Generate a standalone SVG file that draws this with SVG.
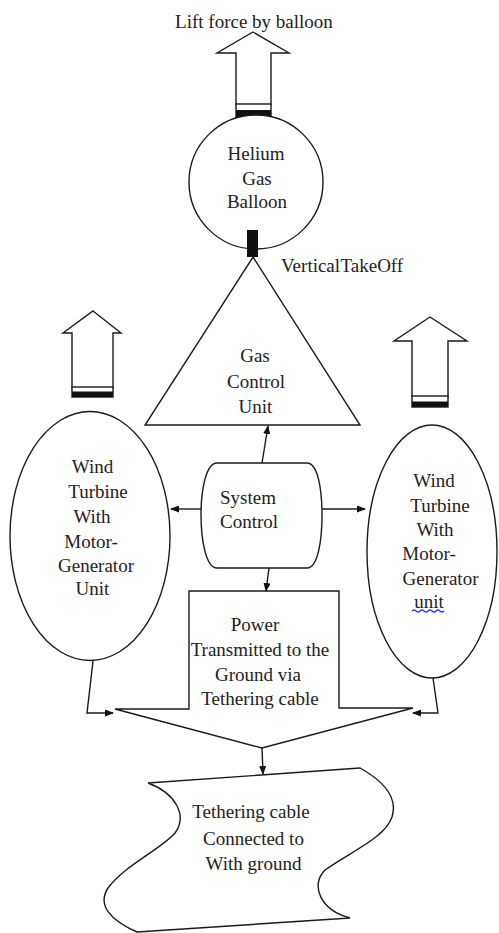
<svg xmlns="http://www.w3.org/2000/svg" width="499" height="933" viewBox="0 0 499 933">
<style>
.s{fill:#fff;stroke:#1a1a1a;stroke-width:1.4}
.c{fill:none;stroke:#1a1a1a;stroke-width:1.4}
.b{fill:#111}
text{font-family:"Liberation Serif","Times New Roman",serif;font-size:19px;fill:#222}
.m{text-anchor:middle}
</style>
<defs>
<marker id="ah" markerWidth="9" markerHeight="7" refX="8" refY="3.5" orient="auto" markerUnits="userSpaceOnUse">
<path d="M0,0 L9,3.5 L0,7 z" fill="#111"/>
</marker>
</defs>
<rect width="499" height="933" fill="#fff"/>

<g id="lift-arrow">
<polygon class="s" points="253,32 289,53 271,53 271,105 236,105 236,53 217,53"/>
<rect class="s" x="236" y="104" width="35" height="13"/>
<rect class="b" x="236" y="110" width="35" height="7"/>
<text class="m" x="254" y="28">Lift force by balloon</text>
</g>

<g id="balloon">
<circle class="s" cx="256" cy="182" r="67"/>
<text class="m" x="256" y="160">Helium</text>
<text class="m" x="257" y="185">Gas</text>
<text class="m" x="257" y="208">Balloon</text>
<rect class="b" x="247" y="230" width="11" height="27"/>
</g>

<g id="gas-control">
<polygon class="s" points="253,257 360,425 145,425"/>
<text class="m" x="255" y="362">Gas</text>
<text class="m" x="256" y="388">Control</text>
<text class="m" x="255.5" y="413">Unit</text>
</g>
<text x="281" y="272" word-spacing="-4">Vertical TakeOff</text>

<g id="left-arrow">
<polygon class="s" points="93,311 121,333 113,333 113,388 72,388 72,333 63,333"/>
<rect class="s" x="72" y="387" width="41" height="10"/>
<rect class="b" x="72" y="391.5" width="41" height="5.5"/>
</g>

<g id="right-arrow">
<polygon class="s" points="430,317 467,341 448,341 448,397 412,397 412,341 394,341"/>
<rect class="s" x="412" y="396" width="36" height="11"/>
<rect class="b" x="412" y="401.5" width="36" height="5.5"/>
</g>

<g id="left-turbine">
<ellipse class="s" cx="90" cy="536" rx="80" ry="124.5"/>
<text class="m" x="92.5" y="473">Wind</text>
<text class="m" x="98" y="498">Turbine</text>
<text class="m" x="92" y="523">With</text>
<text class="m" x="91" y="548">Motor-</text>
<text class="m" x="96" y="572">Generator</text>
<text class="m" x="92.5" y="595">Unit</text>
</g>

<g id="right-turbine">
<ellipse class="s" cx="432" cy="551.5" rx="65" ry="126.5"/>
<text class="m" x="434" y="487">Wind</text>
<text class="m" x="440" y="512">Turbine</text>
<text class="m" x="435" y="536">With</text>
<text class="m" x="429" y="560">Motor-</text>
<text class="m" x="440.5" y="585">Generator</text>
<text class="m" x="429" y="608">unit</text>
<path d="M412,611 q2,-2 4,0 t4,0 t4,0 t4,0 t4,0 t4,0 t4,0 t4,0" fill="none" stroke="#2a3cff" stroke-width="1.2"/>
</g>

<g id="system-control">
<path class="s" d="M217,463 L307,463 C318,463 322,490 322,515 C322,540 318,568 307,568 L217,568 C206,568 201,540 201,515 C201,490 206,463 217,463 Z"/>
<text x="220" y="504">System</text>
<text x="220" y="528">Control</text>
</g>

<g id="power-transmitted">
<polygon class="s" points="189,591 339,591 339,708 413,708 262,748 115,709 189,709"/>
<text class="m" x="255" y="631">Power</text>
<text class="m" x="260" y="656">Transmitted to the</text>
<text class="m" x="258" y="681">Ground via</text>
<text class="m" x="260" y="705">Tethering cable</text>
</g>

<g id="tethering-cable">
<path class="s" d="M148,783 L360,768 C385,782 398,798 392,817 C385,838 350,852 325,870 C310,885 320,910 350,918 L137,932 C110,920 97,905 108,888 C125,865 160,850 175,833 C188,815 175,793 148,783 Z"/>
<text class="m" x="251" y="818">Tethering cable</text>
<text class="m" x="253.5" y="845">Connected to</text>
<text class="m" x="253.5" y="870">With ground</text>
</g>

<g id="connectors">
<line class="c" x1="262" y1="463" x2="268" y2="426" marker-end="url(#ah)"/>
<line class="c" x1="201" y1="509" x2="171" y2="509" marker-end="url(#ah)"/>
<line class="c" x1="322" y1="509" x2="365" y2="509" marker-end="url(#ah)"/>
<line class="c" x1="269" y1="568" x2="266" y2="591" marker-end="url(#ah)"/>
<polyline class="c" points="93,661 87,713 113,713" marker-end="url(#ah)"/>
<polyline class="c" points="433,678 438,713 413,713" marker-end="url(#ah)"/>
<line class="c" x1="262" y1="748" x2="263" y2="774" marker-end="url(#ah)"/>
</g>
</svg>
